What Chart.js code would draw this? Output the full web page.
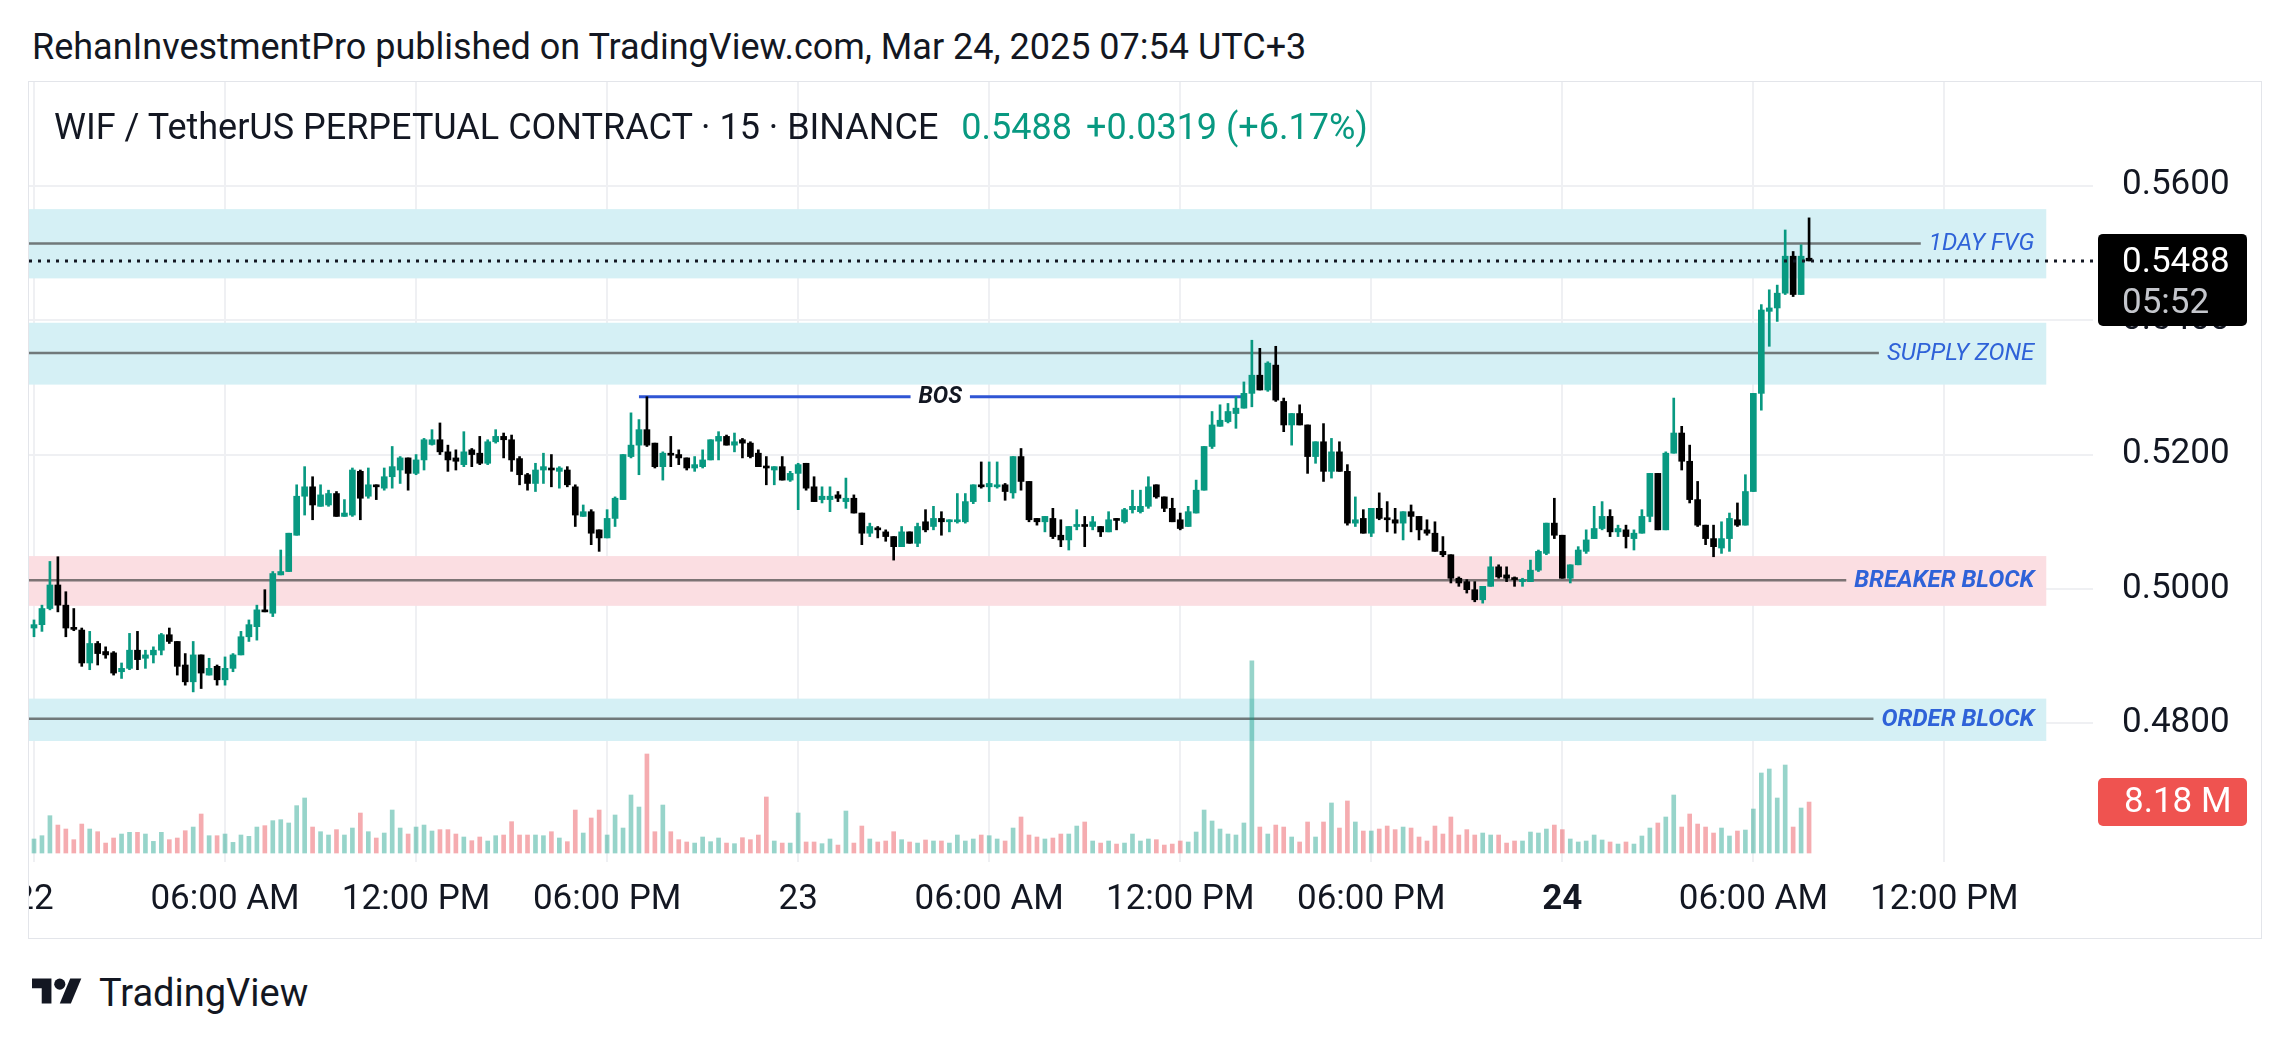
<!DOCTYPE html>
<html>
<head>
<meta charset="utf-8">
<script src="https://cdn.jsdelivr.net/npm/chart.js@4.4.1/dist/chart.umd.min.js"></script>
<style>
  html, body { margin: 0; padding: 0; background: #fff; }
  body { width: 2292px; height: 1044px; position: relative; overflow: hidden; font-family: Roboto, sans-serif; color: #131722; }
  #title { position: absolute; left: 32px; top: 27px; font-size: 36px; line-height: 40px; white-space: nowrap; }
  #pane { position: absolute; left: 29px; top: 82px; width: 2232px; height: 856px; overflow: hidden; }
  #pane canvas { position: absolute; left: 0; top: 0; }
  #border { position: absolute; left: 28px; top: 81px; width: 2232px; height: 856px; border: 1px solid #e3e5ea; pointer-events: none; }
  #legend { position: absolute; left: 54px; top: 107px; font-size: 36px; line-height: 40px; white-space: nowrap; }
  #legend .val { color: #089981; margin-left: 14px; }
  #logo { position: absolute; left: 32px; top: 973px; }
  #logotext { position: absolute; left: 99px; top: 971px; font-size: 38px; line-height: 44px; }
</style>
</head>
<body>
<div id="title">RehanInvestmentPro published on TradingView.com, Mar 24, 2025 07:54 UTC+3</div>
<div id="pane"><canvas id="chart" width="2232" height="856"></canvas></div>
<div id="border"></div>
<div id="legend">WIF / TetherUS PERPETUAL CONTRACT · 15 · BINANCE <span class="val">0.5488</span><span class="val">+0.0319 (+6.17%)</span></div>
<svg id="logo" width="50" height="39" viewBox="0 0 36 28"><path d="M14 22H7V11H0V4h14v18z" fill="#131722"/><circle cx="20" cy="8" r="4" fill="#131722"/><path d="M28 22h-8l7.5-18h8L28 22z" fill="#131722"/></svg>
<div id="logotext">TradingView</div>

<script>
// 15 min bars, bar 0 = Mar 22 00:00
var tickBars = [0, 24, 48, 72, 96, 120, 144, 168, 192, 216, 240];
var tickLabels = ['22', '06:00 AM', '12:00 PM', '06:00 PM', '23', '06:00 AM', '12:00 PM', '06:00 PM', '24', '06:00 AM', '12:00 PM'];
var priceTicks = [0.48, 0.50, 0.52, 0.54, 0.56];

var opens = [
  .4942,.4947,.4971,.5006,.4976,.4942,.4939,.4890,.4919,.4907,.4905,.4877,.4882,.4909,.4897,.4902,
  .4909,.4932,.4922,.4887,.4862,.4902,.4872,.4885,.4865,.4882,.4902,.4929,.4944,.4969,.4964,.5021,
  .5026,.5080,.5138,.5152,.5123,.5125,.5142,.5108,.5110,.5175,.5138,.5155,.5150,.5167,.5177,.5195,
  .5172,.5192,.5215,.5222,.5204,.5195,.5185,.5207,.5202,.5187,.5219,.5227,.5222,.5194,.5170,.5157,
  .5177,.5180,.5175,.5177,.5152,.5108,.5115,.5088,.5076,.5105,.5133,.5197,.5214,.5237,.5217,.5182,
  .5200,.5200,.5195,.5180,.5182,.5192,.5220,.5227,.5214,.5222,.5217,.5202,.5182,.5177,.5182,.5162,
  .5172,.5187,.5152,.5133,.5133,.5140,.5130,.5135,.5113,.5083,.5090,.5085,.5078,.5063,.5085,.5068,
  .5100,.5093,.5105,.5100,.5100,.5100,.5130,.5155,.5152,.5152,.5155,.5143,.5197,.5160,.5105,.5100,
  .5105,.5080,.5073,.5093,.5094,.5093,.5093,.5085,.5103,.5100,.5118,.5115,.5123,.5155,.5137,.5120,
  .5103,.5093,.5113,.5147,.5212,.5242,.5249,.5261,.5269,.5291,.5318,.5296,.5333,.5279,.5244,.5261,
  .5244,.5197,.5219,.5175,.5204,.5175,.5098,.5105,.5083,.5120,.5105,.5103,.5098,.5115,.5108,.5088,
  .5083,.5056,.5051,.5016,.5011,.4999,.4984,.5004,.5033,.5021,.5016,.5011,.5011,.5028,.5053,.5098,
  .5080,.5016,.5036,.5056,.5075,.5090,.5108,.5085,.5088,.5075,.5083,.5108,.5172,.5088,.5202,.5232,
  .5190,.5133,.5095,.5075,.5061,.5075,.5103,.5095,.5145,.5291,.5413,.5418,.5440,.5495,.5438,.5492
];
var highs = [
  .4954,.4976,.5041,.5048,.4996,.4971,.4942,.4937,.4922,.4914,.4907,.4890,.4934,.4937,.4909,.4914,
  .4934,.4942,.4922,.4904,.4922,.4902,.4897,.4887,.4899,.4904,.4937,.4954,.4976,.4999,.5026,.5058,
  .5083,.5155,.5182,.5167,.5155,.5147,.5145,.5133,.5180,.5177,.5180,.5155,.5180,.5212,.5197,.5195,
  .5200,.5224,.5237,.5247,.5214,.5207,.5234,.5209,.5227,.5222,.5237,.5232,.5229,.5197,.5172,.5187,
  .5202,.5200,.5182,.5182,.5155,.5125,.5118,.5088,.5118,.5137,.5200,.5262,.5252,.5286,.5217,.5204,
  .5227,.5207,.5195,.5197,.5207,.5222,.5234,.5229,.5232,.5224,.5219,.5207,.5197,.5182,.5197,.5175,
  .5187,.5187,.5167,.5152,.5152,.5145,.5165,.5140,.5113,.5098,.5093,.5088,.5078,.5093,.5085,.5098,
  .5118,.5123,.5115,.5103,.5142,.5142,.5155,.5189,.5189,.5189,.5157,.5197,.5209,.5160,.5105,.5108,
  .5120,.5103,.5093,.5118,.5108,.5108,.5093,.5115,.5105,.5120,.5147,.5147,.5167,.5155,.5137,.5135,
  .5113,.5123,.5162,.5212,.5264,.5274,.5276,.5286,.5308,.5370,.5358,.5338,.5361,.5284,.5261,.5274,
  .5244,.5219,.5246,.5224,.5219,.5185,.5137,.5118,.5120,.5143,.5130,.5120,.5115,.5125,.5108,.5103,
  .5100,.5078,.5051,.5018,.5014,.5011,.5004,.5048,.5036,.5033,.5018,.5016,.5043,.5058,.5098,.5135,
  .5080,.5036,.5063,.5088,.5123,.5130,.5118,.5095,.5095,.5088,.5118,.5172,.5172,.5204,.5284,.5242,
  .5214,.5160,.5095,.5095,.5100,.5113,.5128,.5170,.5291,.5423,.5445,.5452,.5534,.5502,.5512,.5552
];
var lows = [
  .4929,.4937,.4969,.4966,.4929,.4938,.4885,.4880,.4887,.4897,.4872,.4867,.4880,.4880,.4882,.4890,
  .4902,.4919,.4872,.4857,.4847,.4852,.4872,.4857,.4857,.4877,.4902,.4922,.4924,.4966,.4959,.5021,
  .5026,.5080,.5110,.5103,.5123,.5123,.5108,.5108,.5108,.5103,.5135,.5133,.5147,.5150,.5157,.5147,
  .5170,.5177,.5214,.5200,.5175,.5177,.5182,.5182,.5185,.5185,.5217,.5195,.5175,.5155,.5147,.5145,
  .5157,.5152,.5150,.5152,.5093,.5108,.5066,.5056,.5076,.5093,.5133,.5195,.5170,.5212,.5180,.5162,
  .5182,.5185,.5177,.5175,.5180,.5192,.5192,.5214,.5204,.5195,.5195,.5182,.5155,.5155,.5162,.5160,
  .5118,.5147,.5130,.5128,.5115,.5130,.5120,.5113,.5066,.5078,.5076,.5071,.5043,.5063,.5068,.5063,
  .5085,.5088,.5080,.5085,.5098,.5098,.5127,.5150,.5130,.5150,.5132,.5135,.5147,.5100,.5095,.5085,
  .5075,.5063,.5058,.5088,.5063,.5088,.5078,.5085,.5088,.5098,.5113,.5113,.5120,.5135,.5115,.5100,
  .5088,.5093,.5113,.5147,.5209,.5242,.5247,.5239,.5269,.5271,.5296,.5294,.5279,.5234,.5214,.5244,
  .5172,.5187,.5160,.5165,.5175,.5095,.5093,.5083,.5078,.5103,.5085,.5083,.5073,.5085,.5073,.5080,
  .5056,.5048,.5009,.5004,.4994,.4981,.4979,.5004,.5016,.5011,.5004,.5004,.5011,.5026,.5051,.5075,
  .5016,.5009,.5036,.5053,.5075,.5088,.5078,.5078,.5061,.5058,.5083,.5100,.5088,.5088,.5202,.5177,
  .5128,.5093,.5066,.5048,.5053,.5056,.5093,.5095,.5145,.5266,.5361,.5398,.5438,.5435,.5438,.5488
];
var closes = [
  .4947,.4971,.5006,.4976,.4942,.4940,.4890,.4919,.4904,.4902,.4875,.4882,.4909,.4895,.4902,.4909,
  .4932,.4922,.4885,.4862,.4902,.4875,.4882,.4865,.4882,.4902,.4929,.4947,.4969,.4966,.5023,.5026,
  .5083,.5138,.5152,.5125,.5140,.5142,.5108,.5113,.5177,.5135,.5155,.5152,.5167,.5182,.5195,.5172,
  .5192,.5222,.5222,.5204,.5192,.5190,.5204,.5200,.5187,.5219,.5227,.5222,.5192,.5170,.5157,.5177,
  .5182,.5177,.5180,.5155,.5110,.5115,.5083,.5076,.5105,.5135,.5200,.5214,.5237,.5214,.5182,.5202,
  .5199,.5195,.5180,.5185,.5192,.5222,.5227,.5214,.5219,.5217,.5197,.5182,.5180,.5182,.5162,.5172,
  .5185,.5150,.5130,.5138,.5138,.5135,.5135,.5113,.5083,.5093,.5088,.5078,.5063,.5085,.5068,.5093,
  .5088,.5105,.5100,.5103,.5103,.5130,.5155,.5152,.5157,.5155,.5145,.5197,.5160,.5103,.5100,.5108,
  .5078,.5073,.5093,.5095,.5093,.5100,.5085,.5103,.5102,.5118,.5123,.5123,.5152,.5137,.5120,.5100,
  .5090,.5115,.5147,.5212,.5244,.5251,.5264,.5269,.5291,.5318,.5296,.5336,.5281,.5244,.5261,.5244,
  .5197,.5219,.5175,.5204,.5175,.5098,.5103,.5083,.5120,.5105,.5103,.5098,.5115,.5108,.5088,.5083,
  .5056,.5051,.5016,.5009,.4999,.4984,.5004,.5033,.5018,.5016,.5014,.5014,.5028,.5056,.5098,.5080,
  .5016,.5036,.5058,.5073,.5090,.5108,.5085,.5090,.5078,.5083,.5108,.5172,.5088,.5202,.5232,.5190,
  .5133,.5095,.5075,.5063,.5075,.5105,.5095,.5145,.5291,.5415,.5418,.5440,.5495,.5438,.5495,.5488
];
// volume in millions
var volumes = [
  2.25,2.78,5.99,4.49,3.85,2.14,4.65,3.85,3.42,1.60,2.41,3.05,3.32,3.32,3.05,1.87,
  3.32,2.14,2.41,3.58,4.17,6.26,2.78,2.78,3.05,1.71,2.89,2.68,4.17,4.39,5.19,5.35,
  4.82,7.60,8.83,4.17,3.42,2.89,3.75,2.89,4.01,6.42,3.42,2.41,3.21,6.90,4.01,3.05,
  4.17,4.49,3.53,3.75,3.75,3.05,2.57,1.98,2.57,1.93,2.78,2.89,5.03,2.89,2.89,2.89,
  2.78,3.42,2.41,1.82,6.90,3.21,5.62,6.90,2.89,6.10,4.01,9.31,7.38,15.89,3.42,7.70,
  3.42,2.14,1.77,1.60,2.57,1.82,2.41,1.60,1.50,2.46,2.14,2.89,8.99,1.93,1.60,1.60,
  6.42,1.77,1.77,1.50,2.25,1.28,6.74,1.60,4.33,2.25,1.77,1.93,3.42,2.14,1.77,1.60,
  2.09,1.93,1.93,1.60,2.89,1.93,2.25,2.89,2.78,2.25,1.93,4.01,5.78,2.89,2.57,2.25,
  2.41,3.05,3.05,4.33,4.98,1.93,1.60,1.93,1.44,1.60,3.05,1.93,2.25,2.14,1.28,1.44,
  1.93,1.77,3.37,6.90,5.14,3.85,3.05,2.89,4.82,30.82,4.17,3.05,4.49,4.17,2.57,1.77,
  4.98,2.57,4.98,8.03,4.01,8.35,4.98,3.53,3.53,3.85,4.33,3.75,4.17,4.01,2.57,1.93,
  4.33,3.05,5.78,2.89,3.75,2.89,3.21,2.89,2.89,1.60,1.93,1.93,3.37,3.21,3.85,4.49,
  3.75,2.25,1.77,1.93,2.89,2.09,1.77,1.44,1.77,1.44,2.73,4.01,4.82,5.78,9.31,4.17,
  6.26,4.65,4.17,3.21,4.01,2.73,3.53,3.69,7.06,12.84,13.48,8.83,14.12,4.17,7.22,8.18
];

// drawn zones (price levels)
var zoneNames = ['1DAY FVG', 'SUPPLY ZONE', 'BREAKER BLOCK', 'ORDER BLOCK'];
var zoneTops = [0.5565, 0.5396, 0.5049, 0.4837];
var zoneBottoms = [0.5462, 0.5304, 0.4975, 0.4774];
var zoneMids = [0.5514, 0.5351, 0.5013, 0.4807];
var zoneEndBar = 252.8;
var bosLevel = 0.5286, bosFrom = 76, bosTo = 151.7;
var lastPrice = 0.5488, lastVolume = 8.18, countdown = '05:52';

// styles
var zoneFill = ['#d5f0f5', '#d5f0f5', '#fbdee2', '#d5f0f5'];
var zoneBold = [false, false, true, true];
var UP = '#089981', DOWN = '#000000';

var bars = [];
for (var i = 0; i < closes.length; i++) bars.push(i);
var candleColors = bars.map(function(i) { return closes[i] >= opens[i] ? UP : DOWN; });
var volColors = bars.map(function(i) { return closes[i] >= opens[i] ? 'rgba(8,153,129,0.42)' : 'rgba(232,70,80,0.45)'; });

var drawings = {
  id: 'drawings',
  beforeDatasetsDraw: function(chart) {
    var ctx = chart.ctx, a = chart.chartArea, x = chart.scales.x, y = chart.scales.y;
    ctx.save();
    ctx.beginPath();
    ctx.rect(a.left, a.top, a.right - a.left, a.bottom - a.top);
    ctx.clip();
    var right = x.getPixelForValue(zoneEndBar);
    for (var z = 0; z < zoneNames.length; z++) {
      var t = y.getPixelForValue(zoneTops[z]), b = y.getPixelForValue(zoneBottoms[z]), m = y.getPixelForValue(zoneMids[z]);
      ctx.fillStyle = zoneFill[z];
      ctx.fillRect(a.left, t, right - a.left, b - t);
      ctx.font = 'italic ' + (zoneBold[z] ? 'bold ' : '') + '24px Roboto';
      var w = ctx.measureText(zoneNames[z]).width;
      var lx = right - 12 - w;
      ctx.strokeStyle = 'rgba(70,70,70,0.7)';
      ctx.lineWidth = 2.5;
      ctx.beginPath();
      ctx.moveTo(a.left, m);
      ctx.lineTo(lx - 8, m);
      ctx.stroke();
      ctx.fillStyle = '#2f62d8';
      ctx.textBaseline = 'middle';
      ctx.textAlign = 'left';
      ctx.fillText(zoneNames[z], lx, m + 1);
    }
    // BOS
    var by = y.getPixelForValue(bosLevel);
    var x1 = x.getPixelForValue(bosFrom), x2 = x.getPixelForValue(bosTo);
    ctx.font = 'italic bold 23px Roboto';
    var bw = ctx.measureText('BOS').width;
    var cx = (x1 + x2) / 2;
    ctx.strokeStyle = '#2f55d4';
    ctx.lineWidth = 3;
    ctx.beginPath();
    ctx.moveTo(x1, by); ctx.lineTo(cx - bw / 2 - 8, by);
    ctx.moveTo(cx + bw / 2 + 8, by); ctx.lineTo(x2, by);
    ctx.stroke();
    ctx.fillStyle = '#131722';
    ctx.textAlign = 'center';
    ctx.fillText('BOS', cx, by + 1);
    ctx.restore();
  },
  afterDatasetsDraw: function(chart) {
    var ctx = chart.ctx, a = chart.chartArea, y = chart.scales.y;
    var py = y.getPixelForValue(lastPrice);
    ctx.save();
    ctx.strokeStyle = '#131722';
    ctx.lineWidth = 3;
    ctx.setLineDash([3, 6]);
    ctx.beginPath();
    ctx.moveTo(a.left, py);
    ctx.lineTo(a.right + 6, py);
    ctx.stroke();
    ctx.restore();
  },
  afterDraw: function(chart) {
    var ctx = chart.ctx, a = chart.chartArea, y = chart.scales.y, yv = chart.scales.yVol;
    var bx = a.right + 5, bw = 149;
    var py = y.getPixelForValue(lastPrice);
    ctx.save();
    ctx.fillStyle = '#000';
    ctx.beginPath();
    ctx.roundRect(bx, py - 27, bw, 92, 5);
    ctx.fill();
    ctx.font = '35px Roboto';
    ctx.textBaseline = 'middle';
    ctx.textAlign = 'left';
    ctx.fillStyle = '#ffffff';
    ctx.fillText(lastPrice.toFixed(4), a.right + 29, py + 2);
    ctx.fillStyle = '#c4c6cc';
    ctx.fillText(countdown, a.right + 29, py + 43);
    var vy = yv.getPixelForValue(lastVolume);
    ctx.fillStyle = '#ef5350';
    ctx.beginPath();
    ctx.roundRect(bx, vy - 24, bw, 48, 5);
    ctx.fill();
    ctx.fillStyle = '#ffffff';
    ctx.fillText(lastVolume.toFixed(2) + ' M', a.right + 31, vy + 1);
    ctx.restore();
  }
};

new Chart(document.getElementById('chart'), {
  type: 'bar',
  data: {
    datasets: [
      {
        label: 'Volume', yAxisID: 'yVol', order: 3, grouped: false,
        data: bars.map(function(i) { return { x: i, y: volumes[i] }; }),
        backgroundColor: volColors, barThickness: 4, borderWidth: 0
      },
      {
        label: 'Wicks', yAxisID: 'y', order: 2, grouped: false,
        data: bars.map(function(i) { return { x: i, y: [lows[i], highs[i]] }; }),
        backgroundColor: candleColors, barThickness: 2, borderWidth: 0, minBarLength: 1
      },
      {
        label: 'Bodies', yAxisID: 'y', order: 1, grouped: false,
        data: bars.map(function(i) { return { x: i, y: [opens[i], closes[i]] }; }),
        backgroundColor: candleColors, barThickness: 6, borderWidth: 0, minBarLength: 2
      }
    ]
  },
  options: {
    responsive: false,
    animation: false,
    devicePixelRatio: 1,
    events: [],
    layout: { padding: 0 },
    plugins: { legend: { display: false }, tooltip: { enabled: false } },
    scales: {
      x: {
        type: 'linear', min: -0.628, max: 258.67, offset: false,
        afterBuildTicks: function(s) { s.ticks = tickBars.map(function(v) { return { value: v }; }); },
        afterFit: function(s) { s.height = 76; s.paddingLeft = 0; s.paddingRight = 0; },
        grid: { color: '#eff0f3', lineWidth: 2, drawTicks: false, offset: false },
        border: { display: false },
        ticks: {
          autoSkip: false, maxRotation: 0, padding: 17, color: '#131722',
          font: function(c) {
            var bold = c.tick && c.index === tickLabels.indexOf('24');
            return { family: 'Roboto', size: 35, weight: bold ? 'bold' : 'normal' };
          },
          callback: function(v, idx) { return tickLabels[idx]; }
        }
      },
      y: {
        type: 'linear', position: 'right', min: 0.4594, max: 0.575408,
        afterBuildTicks: function(s) { s.ticks = priceTicks.map(function(v) { return { value: v }; }); },
        afterFit: function(s) { s.width = 168; s.paddingTop = 0; s.paddingBottom = 0; },
        grid: { color: '#eff0f3', lineWidth: 2, drawTicks: false },
        border: { display: false },
        ticks: {
          padding: 29, color: '#131722', font: { family: 'Roboto', size: 35 },
          callback: function(v) { return v.toFixed(4); }
        }
      },
      yVol: { display: false, min: -1.44, max: 123.7 }
    }
  },
  plugins: [drawings]
});
</script>
</body>
</html>
